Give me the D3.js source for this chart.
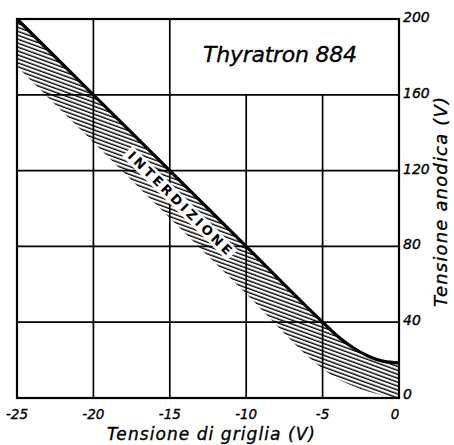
<!DOCTYPE html>
<html>
<head>
<meta charset="utf-8">
<script src="https://cdn.jsdelivr.net/npm/d3@7"></script>
<style>
  html, body { margin: 0; padding: 0; background: #fff; }
  svg { display: block; }
  text { font-family: "DejaVu Sans", sans-serif; font-style: italic; fill: #000; }
</style>
</head>
<body>
<svg id="chart" width="454" height="445"></svg>
<script>
// Grid voltage (V) and anode voltage (V) of the cut-off characteristic
const gridVolts   = [-25, -20, -15, -10, -5, -4, -3, -2, -1, 0];
const anodeVolts  = [200, 160, 120, 80, 40, 32.5, 26.5, 22, 19.3, 18.5];
// Lower edge of the hatched cut-off band
const bandLower   = [175, 135, 95, 55, 15.5, 10, 6.3, 3.4, 1.2, 0];

const xTicks = [-25, -20, -15, -10, -5, 0];
const yTicks = [0, 40, 80, 120, 160, 200];
const xTickLabels = ["-25", "-20", "-15", "-10", "-5", "0"];
const yTickLabels = ["0", "40", "80", "120", "160", "200"];

const titleText = "Thyratron 884";
const bandLabel = "INTERDIZIONE";
const xTitle = "Tensione di griglia (V)";
const yTitle = "Tensione anodica (V)";

const svg = d3.select("#chart");
const x = d3.scaleLinear().domain([-25, 0]).range([17, 399]);
const y = d3.scaleLinear().domain([0, 200]).range([398, 19]);

const pts = gridVolts.map((v, i) => ({ v, a: anodeVolts[i], lo: bandLower[i] }));

// hatch pattern
const defs = svg.append("defs");
const pat = defs.append("pattern")
  .attr("id", "hatch")
  .attr("patternUnits", "userSpaceOnUse")
  .attr("width", 40).attr("height", 3.7)
  .attr("patternTransform", "rotate(20)");
pat.append("line")
  .attr("x1", 0).attr("x2", 40).attr("y1", 1.2).attr("y2", 1.2)
  .attr("stroke", "#000").attr("stroke-width", 1.3);

// hatched band under the characteristic
const area = d3.area()
  .x(d => x(d.v)).y0(d => y(d.lo)).y1(d => y(d.a))
  .curve(d3.curveMonotoneX);
svg.append("path").datum(pts)
  .attr("d", area)
  .attr("fill", "url(#hatch)");

// grid: verticals -10 and -5 stop at 160 V to leave room for the title
const g = svg.append("g").attr("stroke", "#000").attr("stroke-width", 1.7).attr("fill", "none");
xTicks.forEach(t => {
  const top = (t === -10 || t === -5) ? 160 : 200;
  g.append("line").attr("x1", x(t)).attr("x2", x(t)).attr("y1", y(top)).attr("y2", y(0));
});
yTicks.forEach(t => {
  g.append("line").attr("x1", x(-25)).attr("x2", x(0)).attr("y1", y(t)).attr("y2", y(t));
});
g.append("rect")
  .attr("x", x(-25)).attr("y", y(200))
  .attr("width", x(0) - x(-25)).attr("height", y(0) - y(200))
  .attr("stroke-width", 2.2);

// label inside the band, rotated along the characteristic
const ang = Math.atan2(y(120) - y(160), x(-15) - x(-20)) * 180 / Math.PI;
const lv = -13.6;
const la = 200 - 8 * (lv + 25);
const lx = x(lv), ly = y(la);
const lab = svg.append("g")
  .attr("transform", `translate(${lx},${ly}) rotate(${ang})`);
lab.append("rect")
  .attr("x", -74).attr("y", 8.5).attr("width", 148).attr("height", 15)
  .attr("fill", "#fff");
lab.append("text")
  .attr("x", 0).attr("y", 20.5)
  .attr("text-anchor", "middle")
  .attr("font-size", 13)
  .attr("font-weight", "bold")
  .style("font-style", "normal")
  .attr("textLength", 140)
  .attr("lengthAdjust", "spacing")
  .text(bandLabel);

// characteristic
const line = d3.line().x(d => x(d.v)).y(d => y(d.a)).curve(d3.curveMonotoneX);
svg.append("path").datum(pts)
  .attr("d", line)
  .attr("fill", "none").attr("stroke", "#000").attr("stroke-width", 3.2)
  .attr("stroke-linejoin", "round");

// slightly heavier strokes for the lettering
const ink = sel => sel.attr("stroke", "#000").attr("stroke-width", 0.35);

// title
svg.append("text")
  .attr("x", 203).attr("y", 62)
  .attr("font-size", 22)
  .attr("textLength", 154)
  .call(ink)
  .text(titleText);

// bottom tick labels
svg.append("g").selectAll("text").data(xTicks).join("text")
  .attr("x", d => x(d) - (d === 0 ? 4 : 0))
  .attr("y", 419)
  .attr("text-anchor", "middle")
  .attr("font-size", 13.5)
  .call(ink)
  .text((d, i) => xTickLabels[i]);

// right tick labels
svg.append("g").selectAll("text").data(yTicks).join("text")
  .attr("x", 403)
  .attr("y", d => y(d) + (d === 0 ? -4 : -2))
  .attr("dy", "0.35em")
  .attr("font-size", 14)
  .call(ink)
  .text((d, i) => yTickLabels[i]);

// axis titles
svg.append("text")
  .attr("x", 211).attr("y", 440)
  .attr("text-anchor", "middle")
  .attr("font-size", 17)
  .attr("textLength", 208)
  .call(ink)
  .text(xTitle);

svg.append("text")
  .attr("transform", "translate(447,202) rotate(-90)")
  .attr("text-anchor", "middle")
  .attr("font-size", 18)
  .attr("textLength", 210)
  .call(ink)
  .text(yTitle);
</script>
</body>
</html>
